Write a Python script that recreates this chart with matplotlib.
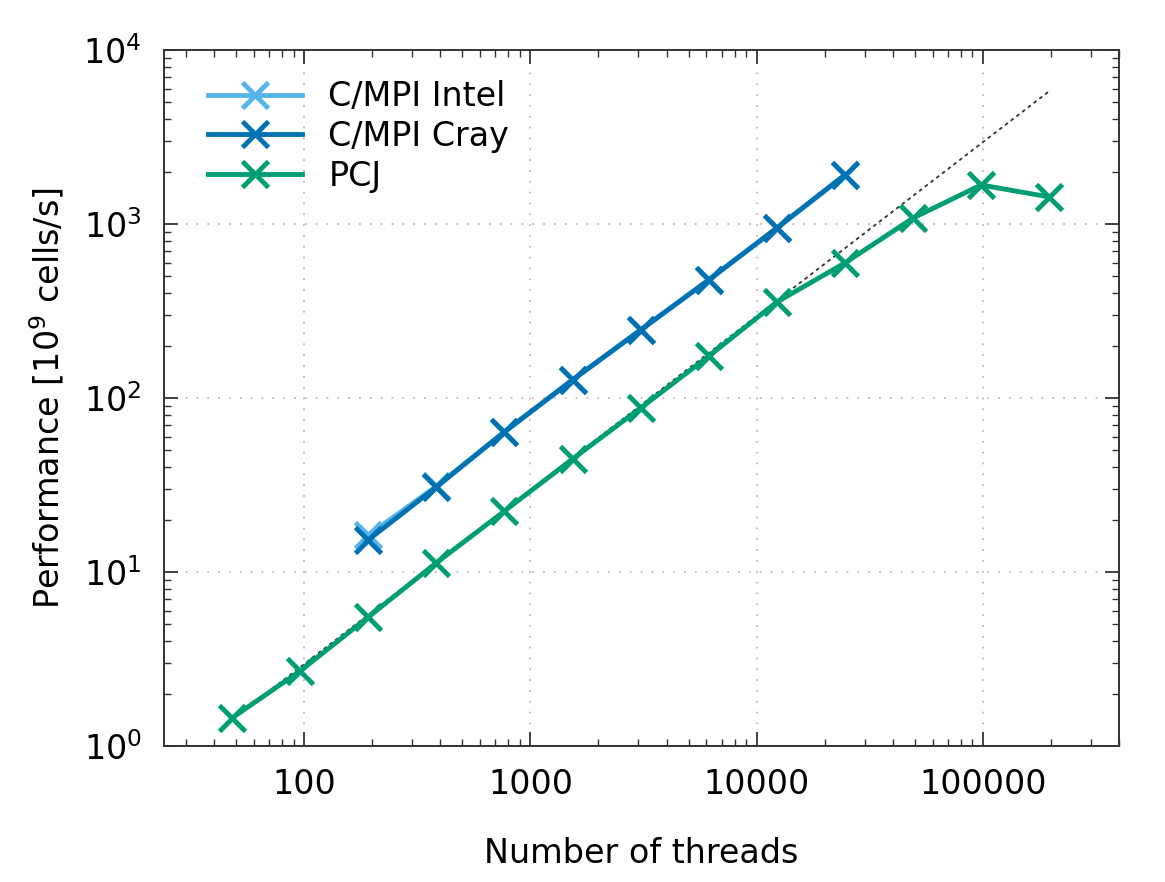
import matplotlib
matplotlib.use("Agg")
import matplotlib.pyplot as plt
from matplotlib.ticker import LogLocator, FixedLocator, NullFormatter

plt.rcParams['font.family'] = ['DejaVu Sans']
plt.rcParams['mathtext.fontset'] = 'dejavusans'

# thread counts
threads_mpi = [192, 384, 768, 1536, 3072, 6144, 12288, 24576]
threads_pcj = [48, 96, 192, 384, 768, 1536, 3072, 6144, 12288, 24576, 49152, 98304, 196608]

# performance [10^9 cells/s]
perf_intel = [16.3, 31.1, 64.1, 127.4, 246.6, 478, 950, 1916]
perf_cray = [15.3, 30.8, 63.8, 127, 246, 477, 948, 1914]
perf_pcj = [1.45, 2.70, 5.51, 11.3, 22.4, 44.6, 87.6, 174, 356, 597, 1082, 1676, 1430]

# ideal scaling line (end points)
ideal_x = [48, 196608]
ideal_y = [1.42, 5800]

x_ticks = [100, 1000, 10000, 100000]
x_labels = ["100", "1000", "10000", "100000"]
y_ticks = [1, 10, 100, 1000, 10000]
y_labels = [r"$10^{0}$", r"$10^{1}$", r"$10^{2}$", r"$10^{3}$", r"$10^{4}$"]

fig = plt.figure(figsize=(11.65, 8.82), dpi=100)
ax = fig.add_axes([164/1165, 1-746/882, (1119-164)/1165, (746-50)/882])

ax.plot(ideal_x, ideal_y, color="#333333", lw=1.3, ls=(0, (2, 2)), zorder=1)
ax.plot(threads_mpi, perf_intel, color="#56B4E9", lw=3.5, marker="x", ms=19, mew=3.5, label="C/MPI Intel", zorder=2)
ax.plot(threads_mpi, perf_cray, color="#0072B2", lw=3.5, marker="x", ms=19, mew=3.5, label="C/MPI Cray", zorder=3)
ax.plot(threads_pcj, perf_pcj, color="#009E73", lw=3.5, marker="x", ms=19, mew=3.5, label="PCJ", zorder=2)

ax.set_xscale("log")
ax.set_yscale("log")
ax.set_xlim(24, 400000)
ax.set_ylim(1, 10000)

ax.xaxis.set_major_locator(FixedLocator(x_ticks))
ax.set_xticklabels(x_labels)
ax.yaxis.set_major_locator(FixedLocator(y_ticks))
ax.set_yticklabels(y_labels)
ax.xaxis.set_minor_locator(LogLocator(base=10, subs=range(2, 10), numticks=20))
ax.yaxis.set_minor_locator(LogLocator(base=10, subs=range(2, 10), numticks=20))
ax.xaxis.set_minor_formatter(NullFormatter())
ax.yaxis.set_minor_formatter(NullFormatter())

ax.tick_params(which="both", direction="in", top=True, right=True, colors="#333333", labelcolor="black")
ax.tick_params(which="major", length=10, width=1.3, labelsize=24, pad=16)
ax.tick_params(which="minor", length=5, width=1)
for s in ax.spines.values():
    s.set_color("#333333")
    s.set_linewidth(1.4)

ax.grid(which="major", color="#bbbbbb", ls=(0, (1, 5)), lw=1.3)

ax.set_xlabel("Number of threads", fontsize=24, labelpad=26)
ax.set_ylabel(r"Performance [$10^9$ cells/s]", fontsize=24, labelpad=12)

leg = ax.legend(loc="upper left", bbox_to_anchor=(0.022, 0.99), frameon=False, fontsize=24,
                handlelength=2.8, borderaxespad=0.3, labelspacing=0.2, handletextpad=0.8)

fig.savefig("out.png", dpi=100)
